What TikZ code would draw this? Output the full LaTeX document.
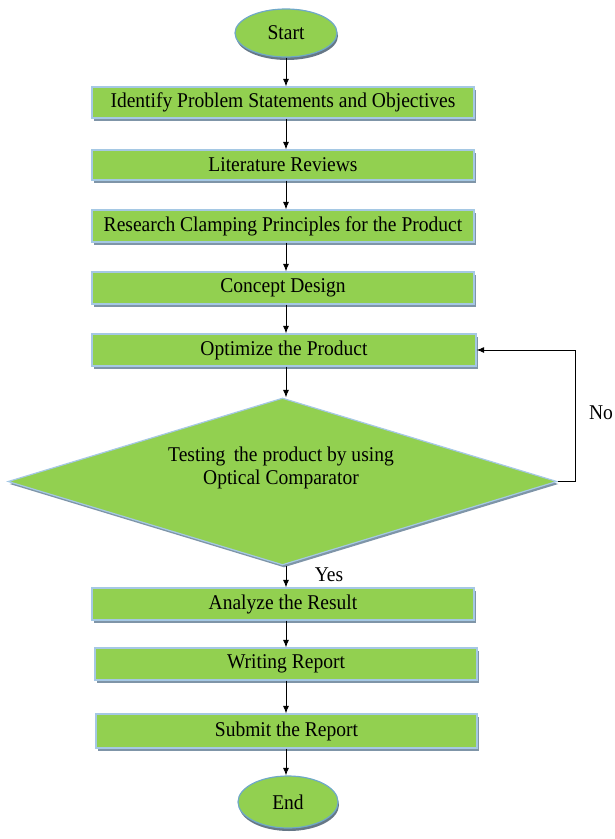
\documentclass[tikz,border=0pt]{standalone}
\usepackage{fontspec}
\setmainfont{Liberation Serif}[FakeStretch=0.93]
\usetikzlibrary{shapes.geometric,shadows,arrows.meta}
\definecolor{fillg}{HTML}{92D050}
\definecolor{edgeb}{HTML}{A5C8E4}
\definecolor{termedge}{HTML}{6FA8C8}
\definecolor{shadowc}{HTML}{7F95A8}
\begin{document}
\begin{tikzpicture}[x=1pt,y=-1pt,
  txt/.style={font=\fontsize{21}{23}\selectfont, text=black},
  box/.style={txt, rectangle, fill=fillg, draw=edgeb, line width=1.2pt,
    minimum width=382pt, minimum height=31pt, inner sep=0pt,
    drop shadow={shadow xshift=1.5pt, shadow yshift=-2.5pt, fill=shadowc, opacity=1}},
  term/.style={txt, ellipse, fill=fillg, draw=termedge, line width=1.2pt,
    minimum width=102pt, minimum height=48pt, inner sep=0pt,
    drop shadow={shadow xshift=1pt, shadow yshift=-3pt, fill=shadowc!80!black, opacity=1}},
  decide/.style={diamond, shape aspect=3.3, fill=fillg, draw=edgeb, line width=1.2pt,
    minimum width=549pt, minimum height=167pt, inner sep=0pt,
    drop shadow={shadow xshift=1.5pt, shadow yshift=-2.5pt, fill=shadowc, opacity=1}},
  arr/.style={-{Latex[length=7.5pt,width=6pt]}, line width=0.9pt, black}
]
\useasboundingbox (0,0) rectangle (615,839);
\node[term] (start) at (286,33) {Start};
\node[box] (b1) at (283,102.5) {Identify Problem Statements and Objectives};
\node[box, minimum height=30pt] (b2) at (283,165) {Literature Reviews};
\node[box, minimum height=32pt] (b3) at (283,226) {Research Clamping Principles for the Product};
\node[box, minimum height=32pt] (b4) at (283,288) {Concept Design};
\node[box, minimum height=32pt, minimum width=384pt] (b5) at (284,350) {Optimize the Product};
\node[decide] (dia) at (282.5,481.5) {};
\node[txt, align=center] (dtext) at (281,468) {Testing\, the product by using\\Optical Comparator};
\node[box, minimum height=32pt] (b6) at (283,604) {Analyze the Result};
\node[box, minimum height=32pt] (b7) at (286,664) {Writing Report};
\node[box, minimum height=34pt, minimum width=381pt] (b8) at (286.5,731) {Submit the Report};
\node[term, minimum width=100pt, minimum height=52pt] (end) at (288,802) {End};

\draw[arr] (start.south) -- (start.south |- b1.north);
\draw[arr] (b1.south -| start) -- (b2.north -| start);
\draw[arr] (b2.south -| start) -- (b3.north -| start);
\draw[arr] (b3.south -| start) -- (b4.north -| start);
\draw[arr] (b4.south -| start) -- (b5.north -| start);
\draw[arr] (b5.south -| start) -- (dia.north -| start);
\draw[arr] (dia.south -| start) -- (b6.north -| start);
\draw[arr] (b6.south -| start) -- (b7.north -| start);
\draw[arr] (b7.south -| start) -- (b8.north -| start);
\draw[arr] (b8.south -| start) -- (end.north -| start);
\draw[arr] (dia.east) -- ++(18,0) coordinate (turn) |- (b5.east);
\node[txt] (no) at (601,413) {No};
\node[txt] (yes) at (329,575) {Yes};
\end{tikzpicture}
\end{document}
